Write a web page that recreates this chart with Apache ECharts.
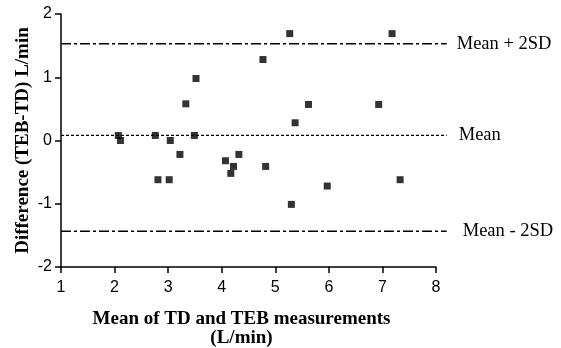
<!DOCTYPE html>
<html>
<head>
<meta charset="utf-8">
<script src="https://cdn.jsdelivr.net/npm/echarts@6/dist/echarts.min.js"></script>
<style>
  html, body { margin: 0; padding: 0; background: #fff; }
  #chart { width: 561px; height: 348px; }
</style>
</head>
<body>
<div id="chart"></div>
<script>
// mean of TD and TEB (x) vs difference TEB-TD (y)
const meanValues = [2.07, 2.11, 2.76, 3.04, 3.33, 3.52, 3.49, 4.77, 5.27, 7.18, 5.62, 6.93,
  5.37, 3.22, 2.81, 3.02, 4.07, 4.22, 4.17, 4.32, 4.82, 5.30, 5.97, 7.33]
const diffValues = [0.08, 0.0, 0.08, 0.0, 0.58, 0.98, 0.08, 1.28, 1.69, 1.69, 0.57, 0.57,
  0.28, -0.22, -0.62, -0.62, -0.32, -0.41, -0.52, -0.22, -0.41, -1.01, -0.72, -0.62]

const meanDiff = 0.08
const upperLimit = 1.53
const lowerLimit = -1.435
const limitLabels = ["Mean + 2SD", "Mean", "Mean - 2SD"]
const lineEndX = 8.2

const xTicks = [1, 2, 3, 4, 5, 6, 7, 8]
const yTicks = [-2, -1, 0, 1, 2]

const points = meanValues.map((x, i) => [x, diffValues[i]])

const chart = echarts.init(document.getElementById("chart"), null, { renderer: "canvas" })

const axisCommon = {
  axisLine: { show: true, onZero: false, lineStyle: { color: "#000", width: 1.5 } },
  axisTick: { show: true, length: 6, lineStyle: { color: "#000", width: 1.5 } },
  axisLabel: { color: "#000", fontFamily: "Liberation Sans", fontSize: 16 },
  splitLine: { show: false },
}

const serif = "Liberation Serif"

// plot area: x 1..8 spans 61..436 px, so the reference lines' grid is
// stretched to reach x = 8.2 with the same scale
const plotLeft = 61
const plotRight = 125
const pxPerUnit = (561 - plotLeft - plotRight) / 7
const refRight = plotRight - (lineEndX - 8) * pxPerUnit

function refLine(y, dash, label, labelDx) {
  return {
    type: "line",
    xAxisIndex: 1,
    yAxisIndex: 1,
    data: [[1, y], [lineEndX, y]],
    showSymbol: false,
    symbol: "none",
    silent: true,
    lineStyle: { color: "#000", width: 1.3, type: dash },
    endLabel: {
      show: true,
      formatter: label,
      color: "#000",
      fontFamily: serif,
      fontSize: 18.5,
      distance: labelDx,
    },
    z: 1,
  }
}

chart.setOption({
  animation: false,
  backgroundColor: "#fff",
  grid: [
    { left: plotLeft, right: plotRight, top: 14, bottom: 81, outerBoundsMode: "none" },
    { left: plotLeft, right: refRight, top: 14, bottom: 81, outerBoundsMode: "none" },
  ],
  xAxis: [
    {
      ...axisCommon,
      type: "value",
      min: 1,
      max: 8,
      interval: 1,
      axisLabel: { ...axisCommon.axisLabel, margin: 13,
        formatter: (v) => (xTicks.includes(v) ? String(v) : "") },
      name: "Mean of TD and TEB measurements\n(L/min)",
      nameLocation: "middle",
      nameGap: 42.5,
      nameMoveOverlap: false,
      nameTextStyle: { color: "#000", fontFamily: serif, fontWeight: "bold", fontSize: 19,
        lineHeight: 19, verticalAlign: "top", padding: [0, 14, 0, 0] },
    },
    { type: "value", gridIndex: 1, min: 1, max: lineEndX, show: false },
  ],
  yAxis: [
    {
      ...axisCommon,
      type: "value",
      min: -2,
      max: 2,
      interval: 1,
      axisLabel: { ...axisCommon.axisLabel, margin: 9,
        formatter: (v) => (yTicks.includes(v) ? String(v) : "") },
      name: "Difference (TEB-TD) L/min",
      nameLocation: "middle",
      nameGap: 28,
      nameMoveOverlap: false,
      nameTextStyle: { color: "#000", fontFamily: serif, fontWeight: "bold", fontSize: 19 },
    },
    { type: "value", gridIndex: 1, min: -2, max: 2, show: false },
  ],
  series: [
    refLine(upperLimit, [10, 3, 3, 3], limitLabels[0], 10),
    refLine(meanDiff, [3, 2], limitLabels[1], 12),
    refLine(lowerLimit, [10, 3, 3, 3], limitLabels[2], 16),
    {
      type: "scatter",
      data: points,
      symbol: "rect",
      symbolSize: 7,
      itemStyle: { color: "#000" },
      z: 3,
    },
  ],
})
</script>
</body>
</html>
